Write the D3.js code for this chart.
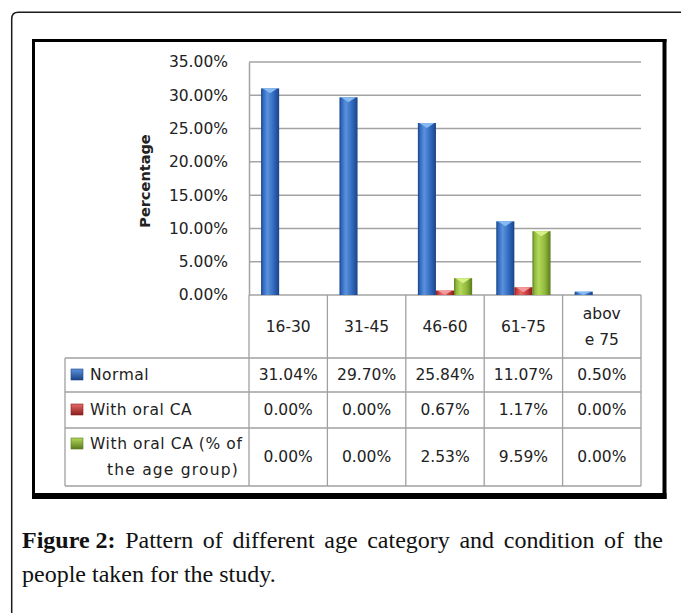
<!DOCTYPE html>
<html>
<head>
<meta charset="utf-8">
<script src="https://cdn.jsdelivr.net/npm/d3@7"></script>
<style>
  html, body { margin: 0; padding: 0; background: #fff; }
  svg { display: block; }
</style>
</head>
<body>
<svg id="chart" width="681" height="613"></svg>
<script>
// ---- data ----
const categories = ["16-30", "31-45", "46-60", "61-75", "above 75"];
const categoryLabelLines = [["16-30"], ["31-45"], ["46-60"], ["61-75"], ["abov", "e 75"]];
const seriesNames = ["Normal", "With oral CA", "With oral CA (% of the age group)"];
const seriesLabelLines = [["Normal"], ["With oral CA"], ["With oral CA (% of", "the age group)"]];
const normalValues = [31.04, 29.70, 25.84, 11.07, 0.50];
const oralCAValues = [0.00, 0.00, 0.67, 1.17, 0.00];
const oralCAPctValues = [0.00, 0.00, 2.53, 9.59, 0.00];
const yTicks = [0, 5, 10, 15, 20, 25, 30, 35];
const yTitle = "Percentage";
const captionBold = "Figure 2:";
const captionLine1 = "Pattern of different age category and condition of the";
const captionLine2 = "people taken for the study.";

const seriesValues = [normalValues, oralCAValues, oralCAPctValues];
const seriesColors = [
  { dark: "#1b4385", mid: "#3069bf", light: "#5a92dc", cap: "#86baf0", key: "#2f66bd" },
  { dark: "#8a1d1d", mid: "#c83b3b", light: "#e86a6a", cap: "#f39a9a", key: "#c0393b" },
  { dark: "#5a7a1e", mid: "#8fb83a", light: "#b3d85a", cap: "#d6ef86", key: "#8cb43a" }
];

// ---- layout ----
const svg = d3.select("#chart");
const plot = { left: 249, right: 641, top: 62, bottom: 295 };
const tableLeft = 65;
const rowEdges = [295, 358, 392, 428, 486];
const sans = "'DejaVu Sans', Verdana, sans-serif";
const fs = 15.5;

// outer rounded frame
svg.append("path")
  .attr("d", "M11.7,613 V19 Q11.7,12.3 18.4,12.3 H681")
  .attr("fill", "none").attr("stroke", "#1a1a1a").attr("stroke-width", 1.5);

// inner thick frame
const frame = svg.append("g").attr("fill", "#000");
frame.append("rect").attr("x", 32).attr("y", 39).attr("width", 3).attr("height", 460);
frame.append("rect").attr("x", 32).attr("y", 39).attr("width", 634.5).attr("height", 3);
frame.append("rect").attr("x", 662.5).attr("y", 39).attr("width", 4).attr("height", 460);
frame.append("rect").attr("x", 32).attr("y", 493).attr("width", 634.5).attr("height", 6);

// scales
const x0 = d3.scaleBand().domain(categories).range([plot.left, plot.right]).paddingInner(0).paddingOuter(0);
const x1 = d3.scaleBand().domain(seriesNames).range([0, x0.bandwidth()]).paddingInner(0).paddingOuter(0.667);
const y = d3.scaleLinear().domain([0, 35]).range([plot.bottom, plot.top]);

// gradients
const defs = svg.append("defs");
seriesColors.forEach((c, i) => {
  const g = defs.append("linearGradient").attr("id", "grad" + i)
    .attr("x1", "0%").attr("x2", "100%").attr("y1", "0%").attr("y2", "0%");
  g.append("stop").attr("offset", "0%").attr("stop-color", c.dark);
  g.append("stop").attr("offset", "12%").attr("stop-color", c.mid);
  g.append("stop").attr("offset", "35%").attr("stop-color", c.light);
  g.append("stop").attr("offset", "70%").attr("stop-color", c.mid);
  g.append("stop").attr("offset", "100%").attr("stop-color", c.dark);
  const k = defs.append("linearGradient").attr("id", "key" + i)
    .attr("x1", "0%").attr("x2", "0%").attr("y1", "0%").attr("y2", "100%");
  k.append("stop").attr("offset", "0%").attr("stop-color", c.light);
  k.append("stop").attr("offset", "100%").attr("stop-color", c.dark);
});

// gridlines
svg.append("g").selectAll("line").data(yTicks).join("line")
  .attr("x1", plot.left).attr("x2", plot.right)
  .attr("y1", d => y(d)).attr("y2", d => y(d))
  .attr("stroke", "#a3a3a3").attr("stroke-width", 1.5);

// y axis
const yAxis = d3.axisLeft(y).tickValues(yTicks).tickSize(0).tickPadding(21)
  .tickFormat(d => d.toFixed(2) + "%");
const yg = svg.append("g").attr("transform", `translate(${plot.left},0)`).call(yAxis);
yg.select(".domain").attr("stroke", "#a3a3a3").attr("stroke-width", 1.5);
yg.selectAll("text").attr("font-family", sans).attr("font-size", fs).attr("fill", "#222");

// y title
svg.append("text")
  .attr("transform", "translate(150,181) rotate(-90)")
  .attr("text-anchor", "middle")
  .attr("font-family", sans).attr("font-size", 14.5).attr("font-weight", "bold").attr("fill", "#222")
  .text(yTitle);

// bars
const barData = [];
seriesNames.forEach((s, si) => {
  categories.forEach((c, ci) => {
    const v = seriesValues[si][ci];
    if (v > 0) barData.push({ s, si, c, v });
  });
});
const bars = svg.append("g").selectAll("g").data(barData).join("g");
bars.append("rect")
  .attr("x", d => x0(d.c) + x1(d.s))
  .attr("y", d => y(d.v))
  .attr("width", x1.bandwidth())
  .attr("height", d => y(0) - y(d.v))
  .attr("fill", d => `url(#grad${d.si})`);
bars.append("path")
  .attr("d", d => {
    const bx = x0(d.c) + x1(d.s), bw = x1.bandwidth(), ty = y(d.v);
    const h = Math.min(5, (y(0) - ty));
    return `M${bx + 1.5},${ty} H${bx + bw - 1.5} L${bx + bw / 2},${ty + h} Z`;
  })
  .attr("fill", d => seriesColors[d.si].cap);

// ---- data table ----
const tbl = svg.append("g").attr("stroke", "#a0a0a0").attr("stroke-width", 1.3);
const colEdges = categories.map(c => x0(c)).concat([plot.right]);
colEdges.forEach(xv => {
  tbl.append("line").attr("x1", xv).attr("x2", xv).attr("y1", rowEdges[0]).attr("y2", rowEdges[4]);
});
tbl.append("line").attr("x1", tableLeft).attr("x2", tableLeft).attr("y1", rowEdges[1]).attr("y2", rowEdges[4]);
rowEdges.slice(1).forEach(yv => {
  tbl.append("line").attr("x1", tableLeft).attr("x2", plot.right).attr("y1", yv).attr("y2", yv);
});

// header labels
const hdr = svg.append("g").attr("font-family", sans).attr("font-size", fs).attr("fill", "#222").attr("text-anchor", "middle");
categories.forEach((c, ci) => {
  const lines = categoryLabelLines[ci];
  const cy = (rowEdges[0] + rowEdges[1]) / 2;
  const lh = 26;
  lines.forEach((ln, li) => {
    hdr.append("text")
      .attr("x", x0(c) + x0.bandwidth() / 2)
      .attr("y", cy + (li - (lines.length - 1) / 2) * lh)
      .attr("dy", "0.35em")
      .text(ln);
  });
});

// rows
seriesNames.forEach((s, si) => {
  const top = rowEdges[si + 1], bot = rowEdges[si + 2];
  const cy = (top + bot) / 2;
  const g = svg.append("g").attr("font-family", sans).attr("font-size", fs).attr("fill", "#222");
  const lines = seriesLabelLines[si];
  const firstY = lines.length > 1 ? cy - 13 : cy;
  g.append("rect").attr("x", 71).attr("y", firstY - 6).attr("width", 12).attr("height", 11)
    .attr("fill", `url(#key${si})`).attr("stroke", seriesColors[si].dark).attr("stroke-width", 0.6);
  if (lines.length === 1) {
    g.append("text").attr("x", 90).attr("y", cy).attr("dy", "0.35em")
      .attr("letter-spacing", 0.5).text(lines[0]);
  } else {
    g.append("text").attr("x", 90).attr("y", cy - 13).attr("dy", "0.35em")
      .attr("letter-spacing", 0.6).text(lines[0]);
    g.append("text").attr("x", 239).attr("text-anchor", "end").attr("y", cy + 13).attr("dy", "0.35em")
      .attr("letter-spacing", 1.2).text(lines[1]);
  }
  categories.forEach((c, ci) => {
    g.append("text").attr("x", x0(c) + x0.bandwidth() / 2).attr("y", cy).attr("dy", "0.35em")
      .attr("text-anchor", "middle").text(seriesValues[si][ci].toFixed(2) + "%");
  });
});

// ---- caption (justified first line) ----
const serif = "'Liberation Serif', 'Times New Roman', serif";
const capFs = 24;
const capLeft = 22, capRight = 663;
const cap = svg.append("g").attr("font-family", serif).attr("font-size", capFs).attr("fill", "#111");
const tokens = [{ t: captionBold, b: true }].concat(captionLine1.split(" ").map(t => ({ t, b: false })));
const nodes = tokens.map(tok => cap.append("text").attr("y", 548)
  .attr("font-weight", tok.b ? "bold" : "normal").text(tok.t));
const widths = nodes.map(n => n.node().getComputedTextLength());
const total = d3.sum(widths);
const gap = (capRight - capLeft - total) / (tokens.length - 1);
let cx = capLeft;
nodes.forEach((n, i) => { n.attr("x", cx); cx += widths[i] + gap; });
cap.append("text").attr("x", capLeft).attr("y", 582).text(captionLine2);
</script>
</body>
</html>
